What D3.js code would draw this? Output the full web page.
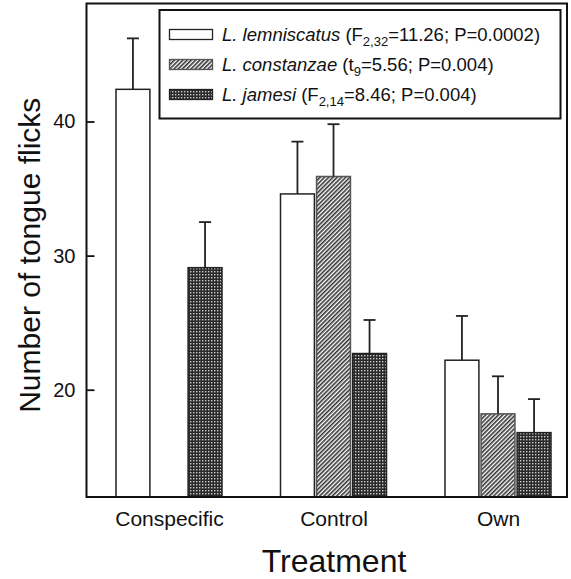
<!DOCTYPE html>
<html>
<head>
<script src="https://d3js.org/d3.v7.min.js"></script>
<style>
  body { margin: 0; background: #fff; }
  text { font-family: "Liberation Sans", Arial, sans-serif; fill: #111; }
</style>
</head>
<body>
<svg id="chart" width="571" height="579"></svg>
<script>
// data
const treatments = ["Conspecific", "Control", "Own"]
const species = ["lemniscatus", "constanzae", "jamesi"]
const lemniscatusMean = [42.4, 34.6, 22.2]
const lemniscatusSE = [3.8, 3.9, 3.3]
const constanzaeMean = [null, 35.9, 18.2]
const constanzaeSE = [null, 3.9, 2.8]
const jamesiMean = [29.1, 22.7, 16.8]
const jamesiSE = [3.4, 2.5, 2.5]
const yTicks = [20, 30, 40]

const means = { lemniscatus: lemniscatusMean, constanzae: constanzaeMean, jamesi: jamesiMean }
const ses = { lemniscatus: lemniscatusSE, constanzae: constanzaeSE, jamesi: jamesiSE }

const rows = []
treatments.forEach((t, i) => {
    species.forEach(s => {
        if (means[s][i] != null) rows.push({ t: t, s: s, v: means[s][i], se: ses[s][i] })
    })
})

const svg = d3.select("#chart")
const plotLeft = 86.5, plotRight = 567, plotTop = 3.5, plotBottom = 497

// patterns for the fills
const defs = svg.append("defs")
const hatch = defs.append("pattern").attr("id", "hatch")
    .attr("patternUnits", "userSpaceOnUse").attr("width", 3).attr("height", 3)
    .attr("patternTransform", "rotate(45)")
hatch.append("rect").attr("width", 3).attr("height", 3).attr("fill", "#fff")
hatch.append("rect").attr("width", 1.6).attr("height", 3).attr("fill", "#333")

const dots = defs.append("pattern").attr("id", "dots")
    .attr("patternUnits", "userSpaceOnUse").attr("width", 3).attr("height", 3)
dots.append("rect").attr("width", 3).attr("height", 3).attr("fill", "#2a2a2a")
dots.append("rect").attr("x", 1).attr("y", 1).attr("width", 1.4).attr("height", 1.4).attr("fill", "#ccc")

const fills = { lemniscatus: "#fff", constanzae: "url(#hatch)", jamesi: "url(#dots)" }

const x = d3.scalePoint().domain(treatments).range([plotLeft + 82.5, plotLeft + 411.5])
const xs = d3.scaleBand().domain(species).range([-53, 53]).paddingInner(0.06)
const y = d3.scaleLinear().domain([12, 48.8]).range([plotBottom, plotTop])

// bars
svg.selectAll(".bar").data(rows).enter().append("rect")
    .attr("class", "bar")
    .attr("x", d => x(d.t) + xs(d.s))
    .attr("width", xs.bandwidth())
    .attr("y", d => y(d.v))
    .attr("height", d => y(12) - y(d.v))
    .attr("fill", d => fills[d.s])
    .attr("stroke", d => d.s == "constanzae" ? "#555" : "#222")
    .attr("stroke-width", 1.5)

// error bars (upper only)
const eb = svg.selectAll(".err").data(rows).enter().append("g").attr("class", "err")
    .attr("stroke", "#222").attr("stroke-width", 1.8)
eb.append("line")
    .attr("x1", d => x(d.t) + xs(d.s) + xs.bandwidth() / 2)
    .attr("x2", d => x(d.t) + xs(d.s) + xs.bandwidth() / 2)
    .attr("y1", d => y(d.v)).attr("y2", d => y(d.v + d.se))
eb.append("line")
    .attr("x1", d => x(d.t) + xs(d.s) + xs.bandwidth() / 2 - 6)
    .attr("x2", d => x(d.t) + xs(d.s) + xs.bandwidth() / 2 + 6)
    .attr("y1", d => y(d.v + d.se)).attr("y2", d => y(d.v + d.se))

// frame
svg.append("rect").attr("x", plotLeft).attr("y", plotTop)
    .attr("width", plotRight - plotLeft).attr("height", plotBottom - plotTop)
    .attr("fill", "none").attr("stroke", "#111").attr("stroke-width", 2)

// y axis, ticks pointing inwards
const yAxis = svg.append("g").attr("transform", `translate(${plotLeft},0)`)
    .call(d3.axisLeft(y).tickValues(yTicks).tickSizeInner(-8).tickSizeOuter(0).tickPadding(11))
yAxis.select(".domain").remove()
yAxis.selectAll("line").attr("stroke", "#111").attr("stroke-width", 1.8)
yAxis.selectAll("text").attr("font-size", 20).attr("font-family", "Liberation Sans, Arial").attr("fill", "#111")

// x tick labels
const xAxis = svg.append("g").attr("transform", `translate(0,${plotBottom})`)
    .call(d3.axisBottom(x).tickSize(0).tickPadding(14))
xAxis.select(".domain").remove()
xAxis.selectAll("text").attr("font-size", 21).attr("font-family", "Liberation Sans, Arial").attr("fill", "#111")

// axis titles
svg.append("text").attr("x", 334).attr("y", 572)
    .attr("text-anchor", "middle").attr("font-size", 32).text("Treatment")
svg.append("text").attr("transform", `translate(40,${(plotTop + plotBottom) / 2 + 5}) rotate(-90)`)
    .attr("text-anchor", "middle").attr("font-size", 30).text("Number of tongue flicks")

// legend
const legend = svg.append("g")
legend.append("rect").attr("x", 159.5).attr("y", 10).attr("width", 401).attr("height", 108.5)
    .attr("fill", "#fff").attr("stroke", "#111").attr("stroke-width", 2)

const legendStats = [
    ["F", "2,32", "=11.26; P=0.0002)"],
    ["t", "9", "=5.56; P=0.004)"],
    ["F", "2,14", "=8.46; P=0.004)"]
]
species.forEach((s, i) => {
    const cy = 34.5 + i * 30
    legend.append("rect").attr("x", 169.5).attr("y", cy - 5).attr("width", 43).attr("height", 10)
        .attr("fill", fills[s]).attr("stroke", s == "constanzae" ? "#555" : "#222").attr("stroke-width", 1.3)
    const t = legend.append("text").attr("x", 222).attr("y", cy + 6.5).attr("font-size", 18.5)
    t.append("tspan").attr("font-style", "italic").text("L. " + s)
    t.append("tspan").text(" (" + legendStats[i][0])
    t.append("tspan").attr("font-size", 13).attr("dy", 4.5).text(legendStats[i][1])
    t.append("tspan").attr("dy", -4.5).text(legendStats[i][2])
})
</script>
</body>
</html>
